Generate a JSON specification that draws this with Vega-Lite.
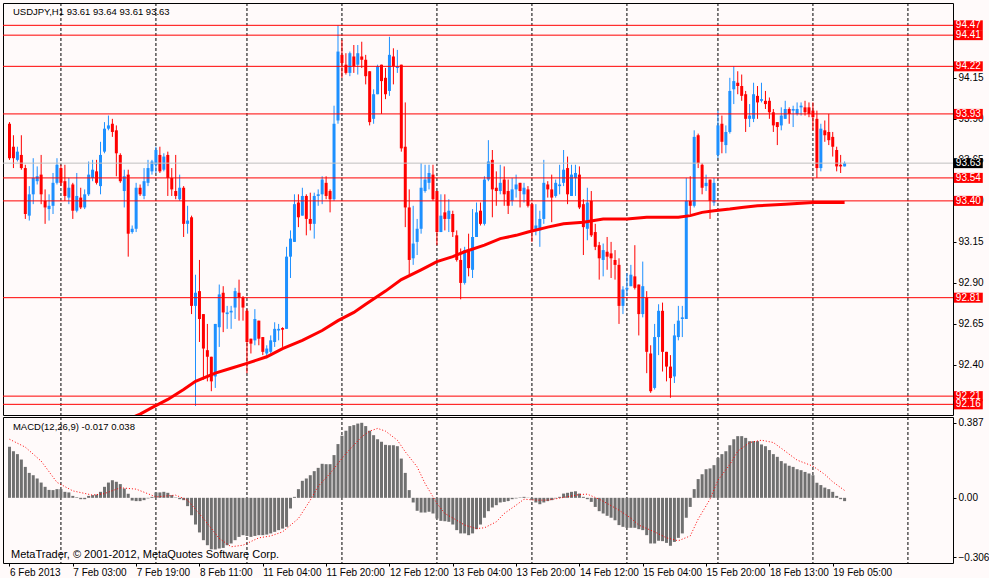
{
  "$schema": "https://vega.github.io/schema/vega-lite/v6.json",
  "background": "#FFFAFA",
  "padding": {"left": 2, "top": 2, "right": 0, "bottom": 0},
  "spacing": 0,
  "config": {
    "view": {"stroke": "#000000", "strokeWidth": 1},
    "font": "Liberation Sans"
  },
  "datasets": {
    "bars": [
      {"i":0,"o":93.87,"h":93.88,"l":93.65,"c":93.66,"m":0.264},
      {"i":1,"o":93.73,"h":93.80,"l":93.60,"c":93.66,"m":0.241},
      {"i":2,"o":93.65,"h":93.73,"l":93.64,"c":93.70,"m":0.226},
      {"i":3,"o":93.68,"h":93.80,"l":93.59,"c":93.60,"m":0.198},
      {"i":4,"o":93.60,"h":93.62,"l":93.29,"c":93.32,"m":0.160},
      {"i":5,"o":93.31,"h":93.49,"l":93.28,"c":93.44,"m":0.129},
      {"i":6,"o":93.44,"h":93.66,"l":93.38,"c":93.54,"m":0.117},
      {"i":7,"o":93.52,"h":93.61,"l":93.50,"c":93.55,"m":0.100},
      {"i":8,"o":93.56,"h":93.68,"l":93.38,"c":93.44,"m":0.079},
      {"i":9,"o":93.40,"h":93.47,"l":93.26,"c":93.36,"m":0.057},
      {"i":10,"o":93.35,"h":93.44,"l":93.28,"c":93.37,"m":0.041},
      {"i":11,"o":93.37,"h":93.57,"l":93.32,"c":93.51,"m":0.040},
      {"i":12,"o":93.51,"h":93.66,"l":93.50,"c":93.62,"m":0.045},
      {"i":13,"o":93.60,"h":93.62,"l":93.49,"c":93.51,"m":0.045},
      {"i":14,"o":93.52,"h":93.62,"l":93.40,"c":93.43,"m":0.031},
      {"i":15,"o":93.42,"h":93.54,"l":93.38,"c":93.48,"m":0.028},
      {"i":16,"o":93.50,"h":93.51,"l":93.29,"c":93.34,"m":0.010},
      {"i":17,"o":93.34,"h":93.57,"l":93.33,"c":93.43,"m":0.003},
      {"i":18,"o":93.42,"h":93.48,"l":93.35,"c":93.36,"m":-0.007},
      {"i":19,"o":93.36,"h":93.47,"l":93.35,"c":93.44,"m":-0.007},
      {"i":20,"o":93.44,"h":93.64,"l":93.43,"c":93.56,"m":0.010},
      {"i":21,"o":93.54,"h":93.65,"l":93.52,"c":93.59,"m":0.014},
      {"i":22,"o":93.58,"h":93.65,"l":93.50,"c":93.51,"m":0.017},
      {"i":23,"o":93.49,"h":93.76,"l":93.44,"c":93.68,"m":0.031},
      {"i":24,"o":93.70,"h":93.88,"l":93.69,"c":93.84,"m":0.057},
      {"i":25,"o":93.84,"h":93.92,"l":93.83,"c":93.86,"m":0.079},
      {"i":26,"o":93.87,"h":93.90,"l":93.79,"c":93.82,"m":0.091},
      {"i":27,"o":93.83,"h":93.86,"l":93.55,"c":93.69,"m":0.083},
      {"i":28,"o":93.68,"h":93.69,"l":93.51,"c":93.52,"m":0.071},
      {"i":29,"o":93.46,"h":93.59,"l":93.36,"c":93.55,"m":0.048},
      {"i":30,"o":93.56,"h":93.59,"l":93.06,"c":93.20,"m":0.021},
      {"i":31,"o":93.21,"h":93.25,"l":93.20,"c":93.23,"m":-0.014},
      {"i":32,"o":93.23,"h":93.51,"l":93.21,"c":93.48,"m":-0.017},
      {"i":33,"o":93.48,"h":93.50,"l":93.43,"c":93.44,"m":-0.017},
      {"i":34,"o":93.43,"h":93.60,"l":93.41,"c":93.52,"m":-0.012},
      {"i":35,"o":93.51,"h":93.65,"l":93.49,"c":93.60,"m":-0.003},
      {"i":36,"o":93.58,"h":93.65,"l":93.56,"c":93.64,"m":0.005},
      {"i":37,"o":93.62,"h":93.73,"l":93.57,"c":93.71,"m":0.028},
      {"i":38,"o":93.68,"h":93.73,"l":93.57,"c":93.58,"m":0.028},
      {"i":39,"o":93.59,"h":93.69,"l":93.58,"c":93.67,"m":0.031},
      {"i":40,"o":93.68,"h":93.70,"l":93.43,"c":93.54,"m":0.026},
      {"i":41,"o":93.54,"h":93.60,"l":93.43,"c":93.47,"m":0.014},
      {"i":42,"o":93.46,"h":93.68,"l":93.41,"c":93.43,"m":0.002},
      {"i":43,"o":93.41,"h":93.56,"l":93.40,"c":93.48,"m":-0.007},
      {"i":44,"o":93.48,"h":93.49,"l":93.18,"c":93.26,"m":-0.012},
      {"i":45,"o":93.26,"h":93.37,"l":93.20,"c":93.28,"m":-0.043},
      {"i":46,"o":93.30,"h":93.31,"l":92.71,"c":92.76,"m":-0.090},
      {"i":47,"o":92.76,"h":92.95,"l":92.15,"c":92.84,"m":-0.138},
      {"i":48,"o":92.85,"h":93.04,"l":92.54,"c":92.68,"m":-0.179},
      {"i":49,"o":92.71,"h":92.71,"l":92.31,"c":92.50,"m":-0.219},
      {"i":50,"o":92.49,"h":92.65,"l":92.30,"c":92.45,"m":-0.245},
      {"i":51,"o":92.45,"h":92.45,"l":92.24,"c":92.30,"m":-0.266},
      {"i":52,"o":92.33,"h":92.65,"l":92.26,"c":92.65,"m":-0.267},
      {"i":53,"o":92.63,"h":92.89,"l":92.51,"c":92.83,"m":-0.262},
      {"i":54,"o":92.84,"h":92.88,"l":92.60,"c":92.72,"m":-0.259},
      {"i":55,"o":92.71,"h":92.76,"l":92.62,"c":92.72,"m":-0.245},
      {"i":56,"o":92.72,"h":92.76,"l":92.62,"c":92.73,"m":-0.236},
      {"i":57,"o":92.75,"h":92.87,"l":92.68,"c":92.85,"m":-0.219},
      {"i":58,"o":92.84,"h":92.92,"l":92.67,"c":92.81,"m":-0.202},
      {"i":59,"o":92.81,"h":92.82,"l":92.67,"c":92.75,"m":-0.193},
      {"i":60,"o":92.73,"h":92.74,"l":92.35,"c":92.54,"m":-0.197},
      {"i":61,"o":92.56,"h":92.56,"l":92.47,"c":92.53,"m":-0.202},
      {"i":62,"o":92.55,"h":92.74,"l":92.52,"c":92.68,"m":-0.197},
      {"i":63,"o":92.67,"h":92.67,"l":92.52,"c":92.56,"m":-0.193},
      {"i":64,"o":92.57,"h":92.57,"l":92.46,"c":92.48,"m":-0.193},
      {"i":65,"o":92.47,"h":92.52,"l":92.44,"c":92.50,"m":-0.190},
      {"i":66,"o":92.48,"h":92.58,"l":92.47,"c":92.55,"m":-0.184},
      {"i":67,"o":92.54,"h":92.66,"l":92.51,"c":92.62,"m":-0.176},
      {"i":68,"o":92.61,"h":92.65,"l":92.55,"c":92.62,"m":-0.167},
      {"i":69,"o":92.625,"h":92.63,"l":92.51,"c":92.615,"m":-0.159},
      {"i":70,"o":92.62,"h":93.12,"l":92.62,"c":93.06,"m":-0.150},
      {"i":71,"o":93.06,"h":93.22,"l":92.93,"c":93.17,"m":-0.055},
      {"i":72,"o":93.15,"h":93.44,"l":93.15,"c":93.38,"m":0.005},
      {"i":73,"o":93.39,"h":93.44,"l":93.24,"c":93.30,"m":0.045},
      {"i":74,"o":93.31,"h":93.48,"l":93.31,"c":93.43,"m":0.088},
      {"i":75,"o":93.43,"h":93.44,"l":93.19,"c":93.29,"m":0.100},
      {"i":76,"o":93.29,"h":93.45,"l":93.22,"c":93.26,"m":0.117},
      {"i":77,"o":93.26,"h":93.45,"l":93.17,"c":93.43,"m":0.138},
      {"i":78,"o":93.43,"h":93.47,"l":93.37,"c":93.44,"m":0.155},
      {"i":79,"o":93.44,"h":93.55,"l":93.38,"c":93.53,"m":0.176},
      {"i":80,"o":93.51,"h":93.55,"l":93.41,"c":93.43,"m":0.174},
      {"i":81,"o":93.46,"h":93.47,"l":93.33,"c":93.41,"m":0.174},
      {"i":82,"o":93.41,"h":93.98,"l":93.40,"c":93.87,"m":0.221},
      {"i":83,"o":93.89,"h":94.47,"l":93.87,"c":94.31,"m":0.278},
      {"i":84,"o":94.29,"h":94.38,"l":94.15,"c":94.24,"m":0.321},
      {"i":85,"o":94.23,"h":94.30,"l":94.17,"c":94.18,"m":0.347},
      {"i":86,"o":94.18,"h":94.31,"l":94.16,"c":94.30,"m":0.371},
      {"i":87,"o":94.28,"h":94.35,"l":94.18,"c":94.22,"m":0.376},
      {"i":88,"o":94.23,"h":94.35,"l":94.17,"c":94.30,"m":0.384},
      {"i":89,"o":94.28,"h":94.37,"l":94.21,"c":94.26,"m":0.388},
      {"i":90,"o":94.26,"h":94.29,"l":94.11,"c":94.16,"m":0.371},
      {"i":91,"o":94.19,"h":94.19,"l":93.86,"c":93.88,"m":0.347},
      {"i":92,"o":93.90,"h":94.08,"l":93.87,"c":94.05,"m":0.324},
      {"i":93,"o":94.05,"h":94.23,"l":94.05,"c":94.22,"m":0.303},
      {"i":94,"o":94.23,"h":94.23,"l":93.93,"c":94.13,"m":0.290},
      {"i":95,"o":94.15,"h":94.21,"l":94.02,"c":94.05,"m":0.274},
      {"i":96,"o":94.07,"h":94.40,"l":94.04,"c":94.29,"m":0.272},
      {"i":97,"o":94.28,"h":94.33,"l":94.11,"c":94.22,"m":0.272},
      {"i":98,"o":94.21,"h":94.32,"l":94.18,"c":94.22,"m":0.267},
      {"i":99,"o":94.23,"h":94.23,"l":93.70,"c":93.72,"m":0.203},
      {"i":100,"o":93.73,"h":94.00,"l":93.24,"c":93.36,"m":0.129},
      {"i":101,"o":93.36,"h":93.47,"l":92.95,"c":93.04,"m":0.040},
      {"i":102,"o":93.05,"h":93.37,"l":93.01,"c":93.14,"m":-0.024},
      {"i":103,"o":93.15,"h":93.29,"l":93.07,"c":93.23,"m":-0.067},
      {"i":104,"o":93.23,"h":93.63,"l":93.20,"c":93.48,"m":-0.076},
      {"i":105,"o":93.46,"h":93.62,"l":93.45,"c":93.53,"m":-0.076},
      {"i":106,"o":93.51,"h":93.62,"l":93.47,"c":93.57,"m":-0.072},
      {"i":107,"o":93.56,"h":93.62,"l":93.40,"c":93.41,"m":-0.081},
      {"i":108,"o":93.46,"h":93.46,"l":93.13,"c":93.21,"m":-0.107},
      {"i":109,"o":93.21,"h":93.44,"l":93.21,"c":93.31,"m":-0.119},
      {"i":110,"o":93.33,"h":93.44,"l":93.22,"c":93.29,"m":-0.121},
      {"i":111,"o":93.29,"h":93.41,"l":93.21,"c":93.34,"m":-0.124},
      {"i":112,"o":93.32,"h":93.34,"l":93.18,"c":93.21,"m":-0.138},
      {"i":113,"o":93.19,"h":93.22,"l":93.03,"c":93.04,"m":-0.167},
      {"i":114,"o":93.04,"h":93.11,"l":92.80,"c":92.90,"m":-0.184},
      {"i":115,"o":92.90,"h":93.12,"l":92.89,"c":93.10,"m":-0.184},
      {"i":116,"o":93.10,"h":93.20,"l":92.94,"c":92.99,"m":-0.193},
      {"i":117,"o":92.98,"h":93.35,"l":92.93,"c":93.18,"m":-0.184},
      {"i":118,"o":93.18,"h":93.39,"l":93.18,"c":93.33,"m":-0.162},
      {"i":119,"o":93.34,"h":93.39,"l":93.25,"c":93.26,"m":-0.138},
      {"i":120,"o":93.26,"h":93.55,"l":93.25,"c":93.53,"m":-0.103},
      {"i":121,"o":93.53,"h":93.77,"l":93.52,"c":93.64,"m":-0.069},
      {"i":122,"o":93.65,"h":93.71,"l":93.30,"c":93.47,"m":-0.050},
      {"i":123,"o":93.48,"h":93.58,"l":93.37,"c":93.46,"m":-0.038},
      {"i":124,"o":93.46,"h":93.62,"l":93.44,"c":93.51,"m":-0.024},
      {"i":125,"o":93.53,"h":93.61,"l":93.37,"c":93.44,"m":-0.021},
      {"i":126,"o":93.46,"h":93.53,"l":93.32,"c":93.37,"m":-0.017},
      {"i":127,"o":93.40,"h":93.54,"l":93.37,"c":93.47,"m":-0.007},
      {"i":128,"o":93.47,"h":93.56,"l":93.42,"c":93.50,"m":-0.003},
      {"i":129,"o":93.51,"h":93.51,"l":93.36,"c":93.46,"m":0.002},
      {"i":130,"o":93.44,"h":93.51,"l":93.39,"c":93.48,"m":0.005},
      {"i":131,"o":93.47,"h":93.49,"l":93.36,"c":93.37,"m":0.001},
      {"i":132,"o":93.38,"h":93.39,"l":93.15,"c":93.21,"m":-0.012},
      {"i":133,"o":93.22,"h":93.38,"l":93.19,"c":93.25,"m":-0.024},
      {"i":134,"o":93.22,"h":93.34,"l":93.12,"c":93.29,"m":-0.033},
      {"i":135,"o":93.29,"h":93.65,"l":93.26,"c":93.51,"m":-0.024},
      {"i":136,"o":93.50,"h":93.52,"l":93.42,"c":93.47,"m":-0.017},
      {"i":137,"o":93.47,"h":93.56,"l":93.27,"c":93.42,"m":-0.012},
      {"i":138,"o":93.43,"h":93.53,"l":93.42,"c":93.51,"m":-0.003},
      {"i":139,"o":93.49,"h":93.62,"l":93.44,"c":93.50,"m":0.005},
      {"i":140,"o":93.51,"h":93.71,"l":93.49,"c":93.59,"m":0.022},
      {"i":141,"o":93.60,"h":93.67,"l":93.38,"c":93.44,"m":0.026},
      {"i":142,"o":93.43,"h":93.62,"l":93.43,"c":93.56,"m":0.031},
      {"i":143,"o":93.54,"h":93.62,"l":93.43,"c":93.57,"m":0.034},
      {"i":144,"o":93.56,"h":93.61,"l":93.35,"c":93.36,"m":0.022},
      {"i":145,"o":93.38,"h":93.41,"l":93.07,"c":93.24,"m":0.005},
      {"i":146,"o":93.23,"h":93.48,"l":93.16,"c":93.39,"m":-0.007},
      {"i":147,"o":93.40,"h":93.46,"l":93.18,"c":93.19,"m":-0.021},
      {"i":148,"o":93.21,"h":93.26,"l":93.10,"c":93.12,"m":-0.047},
      {"i":149,"o":93.13,"h":93.15,"l":92.92,"c":93.05,"m":-0.069},
      {"i":150,"o":93.04,"h":93.14,"l":92.94,"c":93.10,"m":-0.081},
      {"i":151,"o":93.09,"h":93.18,"l":92.98,"c":93.06,"m":-0.093},
      {"i":152,"o":93.08,"h":93.15,"l":92.93,"c":93.05,"m":-0.103},
      {"i":153,"o":93.04,"h":93.10,"l":92.92,"c":93.01,"m":-0.116},
      {"i":154,"o":93.01,"h":93.05,"l":92.65,"c":92.76,"m":-0.141},
      {"i":155,"o":92.76,"h":92.88,"l":92.71,"c":92.86,"m":-0.150},
      {"i":156,"o":92.86,"h":92.96,"l":92.82,"c":92.87,"m":-0.155},
      {"i":157,"o":92.88,"h":93.01,"l":92.88,"c":92.95,"m":-0.155},
      {"i":158,"o":92.94,"h":93.13,"l":92.86,"c":92.87,"m":-0.155},
      {"i":159,"o":92.89,"h":92.89,"l":92.58,"c":92.71,"m":-0.162},
      {"i":160,"o":92.71,"h":93.03,"l":92.69,"c":92.88,"m":-0.167},
      {"i":161,"o":92.81,"h":92.85,"l":92.35,"c":92.48,"m":-0.193},
      {"i":162,"o":92.47,"h":92.52,"l":92.23,"c":92.24,"m":-0.236},
      {"i":163,"o":92.26,"h":92.65,"l":92.25,"c":92.57,"m":-0.236},
      {"i":164,"o":92.57,"h":92.77,"l":92.46,"c":92.73,"m":-0.222},
      {"i":165,"o":92.73,"h":92.78,"l":92.36,"c":92.48,"m":-0.224},
      {"i":166,"o":92.48,"h":92.48,"l":92.30,"c":92.39,"m":-0.233},
      {"i":167,"o":92.39,"h":92.46,"l":92.20,"c":92.32,"m":-0.248},
      {"i":168,"o":92.33,"h":92.65,"l":92.29,"c":92.58,"m":-0.228},
      {"i":169,"o":92.57,"h":92.76,"l":92.55,"c":92.67,"m":-0.207},
      {"i":170,"o":92.68,"h":92.76,"l":92.57,"c":92.69,"m":-0.184},
      {"i":171,"o":92.68,"h":93.54,"l":92.68,"c":93.40,"m":-0.103},
      {"i":172,"o":93.40,"h":93.55,"l":93.32,"c":93.37,"m":-0.047},
      {"i":173,"o":93.37,"h":93.83,"l":93.36,"c":93.79,"m":0.045},
      {"i":174,"o":93.80,"h":93.81,"l":93.60,"c":93.63,"m":0.097},
      {"i":175,"o":93.62,"h":93.63,"l":93.44,"c":93.48,"m":0.122},
      {"i":176,"o":93.49,"h":93.56,"l":93.46,"c":93.51,"m":0.148},
      {"i":177,"o":93.53,"h":93.53,"l":93.29,"c":93.40,"m":0.152},
      {"i":178,"o":93.39,"h":93.54,"l":93.37,"c":93.51,"m":0.169},
      {"i":179,"o":93.68,"h":93.95,"l":93.66,"c":93.86,"m":0.207},
      {"i":180,"o":93.87,"h":93.92,"l":93.69,"c":93.76,"m":0.226},
      {"i":181,"o":93.74,"h":93.86,"l":93.69,"c":93.82,"m":0.241},
      {"i":182,"o":93.82,"h":94.15,"l":93.81,"c":94.07,"m":0.272},
      {"i":183,"o":94.08,"h":94.22,"l":93.99,"c":94.13,"m":0.303},
      {"i":184,"o":94.12,"h":94.19,"l":94.05,"c":94.10,"m":0.319},
      {"i":185,"o":94.10,"h":94.17,"l":94.01,"c":94.04,"m":0.319},
      {"i":186,"o":94.05,"h":94.07,"l":93.82,"c":93.90,"m":0.310},
      {"i":187,"o":93.90,"h":93.99,"l":93.85,"c":93.92,"m":0.293},
      {"i":188,"o":93.90,"h":94.12,"l":93.88,"c":94.05,"m":0.293},
      {"i":189,"o":94.04,"h":94.10,"l":93.90,"c":94.00,"m":0.293},
      {"i":190,"o":94.01,"h":94.12,"l":94.00,"c":94.02,"m":0.276},
      {"i":191,"o":94.01,"h":94.07,"l":93.96,"c":93.99,"m":0.267},
      {"i":192,"o":94.01,"h":94.03,"l":93.90,"c":93.94,"m":0.247},
      {"i":193,"o":93.94,"h":93.96,"l":93.82,"c":93.86,"m":0.226},
      {"i":194,"o":93.88,"h":93.88,"l":93.74,"c":93.85,"m":0.212},
      {"i":195,"o":93.86,"h":93.97,"l":93.83,"c":93.92,"m":0.190},
      {"i":196,"o":93.90,"h":94.01,"l":93.90,"c":93.96,"m":0.178},
      {"i":197,"o":93.96,"h":93.97,"l":93.87,"c":93.93,"m":0.166},
      {"i":198,"o":93.95,"h":93.98,"l":93.85,"c":93.96,"m":0.160},
      {"i":199,"o":93.93,"h":94.00,"l":93.92,"c":93.96,"m":0.148},
      {"i":200,"o":93.97,"h":94.00,"l":93.92,"c":93.98,"m":0.143},
      {"i":201,"o":93.97,"h":94.01,"l":93.92,"c":93.94,"m":0.134},
      {"i":202,"o":93.97,"h":94.00,"l":93.91,"c":93.93,"m":0.126},
      {"i":203,"o":93.95,"h":94.00,"l":93.83,"c":93.91,"m":0.117},
      {"i":204,"o":93.90,"h":93.95,"l":93.54,"c":93.60,"m":0.078},
      {"i":205,"o":93.60,"h":93.87,"l":93.58,"c":93.84,"m":0.066},
      {"i":206,"o":93.83,"h":93.89,"l":93.76,"c":93.80,"m":0.053},
      {"i":207,"o":93.82,"h":93.93,"l":93.74,"c":93.77,"m":0.045},
      {"i":208,"o":93.79,"h":93.82,"l":93.67,"c":93.73,"m":0.031},
      {"i":209,"o":93.71,"h":93.73,"l":93.58,"c":93.61,"m":0.010},
      {"i":210,"o":93.62,"h":93.68,"l":93.57,"c":93.61,"m":-0.007},
      {"i":211,"o":93.61,"h":93.64,"l":93.61,"c":93.63,"m":-0.017}
    ],
    "ma": [
      {"i":30,"v":92.07},{"i":33,"v":92.10},{"i":36,"v":92.14},{"i":40,"v":92.19},
      {"i":44,"v":92.25},{"i":47,"v":92.30},{"i":52,"v":92.35},{"i":56,"v":92.38},
      {"i":60,"v":92.41},{"i":65,"v":92.45},{"i":69,"v":92.50},{"i":74,"v":92.55},
      {"i":79,"v":92.61},{"i":83,"v":92.67},{"i":87,"v":92.72},{"i":90,"v":92.77},
      {"i":95,"v":92.85},{"i":99,"v":92.92},{"i":104,"v":92.98},{"i":108,"v":93.03},
      {"i":112,"v":93.06},{"i":115,"v":93.09},{"i":120,"v":93.13},{"i":124,"v":93.17},
      {"i":128,"v":93.19},{"i":131,"v":93.21},{"i":136,"v":93.24},{"i":140,"v":93.26},
      {"i":145,"v":93.27},{"i":150,"v":93.29},{"i":156,"v":93.29},{"i":161,"v":93.30},
      {"i":166,"v":93.30},{"i":169,"v":93.30},{"i":172,"v":93.31},{"i":175,"v":93.33},
      {"i":178,"v":93.34},{"i":182,"v":93.35},{"i":185,"v":93.36},{"i":189,"v":93.37},
      {"i":196,"v":93.38},{"i":203,"v":93.39},{"i":211,"v":93.39}
    ],
    "sig": [
      {"i":0,"s":0.303},{"i":4,"s":0.262},{"i":8,"s":0.190},{"i":12,"s":0.080},
      {"i":16,"s":0.036},{"i":21,"s":0.014},{"i":24,"s":0.022},{"i":28,"s":0.052},
      {"i":32,"s":0.045},{"i":37,"s":0.005},{"i":42,"s":0.014},{"i":45,"s":-0.012},
      {"i":49,"s":-0.107},{"i":53,"s":-0.210},{"i":56,"s":-0.253},{"i":59,"s":-0.245},
      {"i":63,"s":-0.207},{"i":66,"s":-0.197},{"i":69,"s":-0.176},{"i":73,"s":-0.107},
      {"i":76,"s":-0.012},{"i":78,"s":0.060},{"i":81,"s":0.126},{"i":85,"s":0.229},
      {"i":89,"s":0.316},{"i":91,"s":0.345},{"i":93,"s":0.359},{"i":95,"s":0.345},
      {"i":98,"s":0.298},{"i":100,"s":0.238},{"i":103,"s":0.160},{"i":105,"s":0.074},
      {"i":108,"s":-0.029},{"i":110,"s":-0.081},{"i":113,"s":-0.116},{"i":115,"s":-0.141},
      {"i":118,"s":-0.159},{"i":120,"s":-0.155},{"i":123,"s":-0.124},{"i":125,"s":-0.081},
      {"i":128,"s":-0.038},{"i":130,"s":-0.007},{"i":133,"s":-0.012},{"i":136,"s":-0.012},
      {"i":140,"s":0.002},{"i":144,"s":0.017},{"i":146,"s":0.019},{"i":149,"s":-0.007},
      {"i":151,"s":-0.029},{"i":154,"s":-0.064},{"i":157,"s":-0.105},{"i":159,"s":-0.141},
      {"i":163,"s":-0.176},{"i":166,"s":-0.207},{"i":169,"s":-0.222},{"i":172,"s":-0.197},
      {"i":174,"s":-0.110},{"i":177,"s":-0.007},{"i":179,"s":0.091},{"i":182,"s":0.172},
      {"i":184,"s":0.241},{"i":187,"s":0.286},{"i":190,"s":0.298},{"i":193,"s":0.286},
      {"i":196,"s":0.241},{"i":199,"s":0.195},{"i":203,"s":0.164},{"i":206,"s":0.121},
      {"i":208,"s":0.083},{"i":211,"s":0.038}
    ],
    "days": [
      {"i":13},{"i":37},{"i":60},{"i":84},{"i":108},{"i":132},{"i":156},{"i":179},{"i":203},{"i":227}
    ],
    "levels": [
      {"p":94.47,"kind":"level"},{"p":94.41,"kind":"level"},{"p":94.22,"kind":"level"},
      {"p":93.93,"kind":"level"},{"p":93.63,"kind":"bid"},{"p":93.54,"kind":"level"},
      {"p":93.40,"kind":"level"},{"p":92.81,"kind":"level"},{"p":92.21,"kind":"level"},
      {"p":92.16,"kind":"level"}
    ],
    "heading": [
      {"t":"USDJPY,H1  93.61 93.64 93.61 93.63"}
    ],
    "macdhead": [
      {"t":"MACD(12,26,9) -0.017 0.038"}
    ],
    "note": [
      {"t":"MetaTrader, © 2001-2012, MetaQuotes Software Corp."}
    ]
  },
  "vconcat": [
    {
      "width": 950,
      "height": 412,
      "resolve": {"axis": {"x": "independent", "y": "independent"}},
      "layer": [
        {
          "data": {"name": "days"},
          "mark": {"type": "rule", "strokeDash": [3, 2], "color": "#000000", "strokeWidth": 1},
          "encoding": {
            "x": {"field": "i", "type": "quantitative", "scale": {"domain": [-0.375, 237.125], "nice": false, "zero": false}, "axis": null}
          }
        },
        {
          "data": {"name": "bars"},
          "mark": {"type": "rule", "strokeWidth": 1},
          "encoding": {
            "x": {"field": "i", "type": "quantitative", "axis": null},
            "y": {"field": "l", "type": "quantitative", "scale": {"domain": [92.095, 94.606], "nice": false, "zero": false},
              "axis": {"orient": "right", "title": null, "values": [92.4, 92.65, 92.9, 93.15, 93.4, 93.65, 93.9, 94.15], "format": ".2f",
                "tickSize": 3, "tickColor": "#000000", "labelPadding": 2, "labelFont": "Liberation Sans", "labelFontSize": 10, "labelColor": "#000000",
                "domain": false, "grid": false}},
            "y2": {"field": "h"},
            "color": {"condition": {"test": "datum.c >= datum.o", "value": "#1E90FF"}, "value": "#FF0000"}
          }
        },
        {
          "data": {"name": "bars"},
          "mark": {"type": "bar", "size": 3, "orient": "vertical"},
          "encoding": {
            "x": {"field": "i", "type": "quantitative", "axis": null},
            "y": {"field": "o", "type": "quantitative", "axis": null},
            "y2": {"field": "c"},
            "color": {"condition": {"test": "datum.c >= datum.o", "value": "#1E90FF"}, "value": "#FF0000"}
          }
        },
        {
          "data": {"name": "levels"},
          "mark": {"type": "rule", "strokeWidth": 1},
          "encoding": {
            "y": {"field": "p", "type": "quantitative", "axis": null},
            "color": {"condition": {"test": "datum.kind == 'bid'", "value": "#C0C0C0"}, "value": "#FF0000"}
          }
        },
        {
          "data": {"name": "ma"},
          "mark": {"type": "line", "color": "#FF0000", "strokeWidth": 3, "clip": true},
          "encoding": {
            "x": {"field": "i", "type": "quantitative", "axis": null},
            "y": {"field": "v", "type": "quantitative", "axis": null}
          }
        },
        {
          "data": {"name": "levels"},
          "mark": {"type": "tick", "orient": "horizontal", "size": 29, "thickness": 10, "opacity": 1, "clip": false},
          "encoding": {
            "x": {"datum": 242.25, "type": "quantitative", "axis": null},
            "y": {"field": "p", "type": "quantitative", "axis": null},
            "color": {"condition": {"test": "datum.kind == 'bid'", "value": "#000000"}, "value": "#FF0000"}
          }
        },
        {
          "data": {"name": "levels"},
          "mark": {"type": "text", "align": "left", "baseline": "middle", "color": "#FFFFFF", "fontSize": 10, "font": "Liberation Sans", "clip": false},
          "encoding": {
            "x": {"datum": 239.1, "type": "quantitative", "axis": null},
            "y": {"field": "p", "type": "quantitative", "axis": null},
            "text": {"field": "p", "type": "quantitative", "format": ".2f"}
          }
        },
        {
          "data": {"name": "heading"},
          "mark": {"type": "text", "align": "left", "baseline": "middle", "color": "#000000", "fontSize": 9.5, "font": "Liberation Sans"},
          "encoding": {
            "x": {"datum": 0.875, "type": "quantitative", "axis": null},
            "y": {"datum": 94.553, "type": "quantitative", "axis": null},
            "text": {"field": "t", "type": "nominal"}
          }
        }
      ]
    },
    {
      "width": 950,
      "height": 146,
      "resolve": {"axis": {"x": "independent", "y": "independent"}},
      "layer": [
        {
          "data": {"name": "days"},
          "mark": {"type": "rule", "strokeDash": [3, 2], "color": "#000000", "strokeWidth": 1},
          "encoding": {
            "x": {"field": "i", "type": "quantitative", "scale": {"domain": [-0.375, 237.125], "nice": false, "zero": false}, "axis": null}
          }
        },
        {
          "data": {"name": "bars"},
          "mark": {"type": "bar", "size": 3, "orient": "vertical", "color": "#707070"},
          "encoding": {
            "x": {"field": "i", "type": "quantitative",
              "axis": {"title": null, "values": [0, 16, 32, 48, 64, 80, 96, 112, 128, 144, 160, 176, 192, 208],
                "labelExpr": "['6 Feb 2013','7 Feb 03:00','7 Feb 19:00','8 Feb 11:00','11 Feb 04:00','11 Feb 20:00','12 Feb 12:00','13 Feb 04:00','13 Feb 20:00','14 Feb 12:00','15 Feb 04:00','15 Feb 20:00','18 Feb 13:00','19 Feb 05:00'][round(datum.value / 16)]",
                "labelAlign": "left", "labelBaseline": "top", "labelPadding": 1, "tickSize": 3, "tickColor": "#000000", "labelOverlap": false, "labelFlush": false,
                "labelFont": "Liberation Sans", "labelFontSize": 10, "labelColor": "#000000", "domain": false, "grid": false}},
            "y": {"field": "m", "type": "quantitative", "scale": {"domain": [-0.337, 0.418], "nice": false, "zero": false},
              "axis": {"orient": "right", "title": null, "values": [-0.306, 0, 0.387], "labelExpr": "datum.value == 0 ? '0.00' : format(datum.value, '.3f')",
                "tickSize": 3, "tickColor": "#000000", "labelPadding": 2, "labelFont": "Liberation Sans", "labelFontSize": 10, "labelColor": "#000000",
                "domain": false, "grid": false}},
            "y2": {"datum": 0}
          }
        },
        {
          "data": {"name": "sig"},
          "mark": {"type": "line", "color": "#FF0000", "strokeWidth": 1, "strokeDash": [1, 2]},
          "encoding": {
            "x": {"field": "i", "type": "quantitative", "axis": null},
            "y": {"field": "s", "type": "quantitative", "axis": null}
          }
        },
        {
          "data": {"name": "macdhead"},
          "mark": {"type": "text", "align": "left", "baseline": "middle", "color": "#000000", "fontSize": 9.5, "font": "Liberation Sans"},
          "encoding": {
            "x": {"datum": 0.875, "type": "quantitative", "axis": null},
            "y": {"datum": 0.366, "type": "quantitative", "axis": null},
            "text": {"field": "t", "type": "nominal"}
          }
        },
        {
          "data": {"name": "note"},
          "mark": {"type": "text", "align": "left", "baseline": "middle", "color": "#000000", "fontSize": 11, "font": "Liberation Sans"},
          "encoding": {
            "x": {"datum": 0.375, "type": "quantitative", "axis": null},
            "y": {"datum": -0.297, "type": "quantitative", "axis": null},
            "text": {"field": "t", "type": "nominal"}
          }
        }
      ]
    }
  ]
}
